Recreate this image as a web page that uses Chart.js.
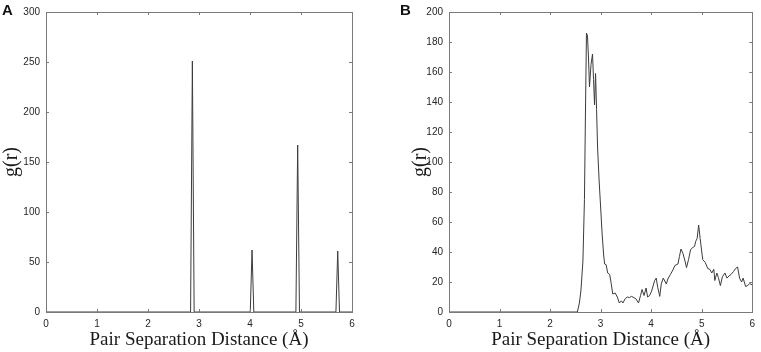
<!DOCTYPE html>
<html lang="en">
<head>
<meta charset="UTF-8">
<title>g(r) panels</title>
<script src="https://cdn.jsdelivr.net/npm/chart.js"></script>
<style>
  body { margin: 0; background: #fff; }
  .panel { position: absolute; top: 0; }
  .letter { position: absolute; top: 1px; font: bold 15px "Liberation Sans", Arial, sans-serif; color: #111; }
</style>
</head>
<body>
<div class="panel" style="left:0"><canvas id="chartA" width="380" height="352"></canvas></div>
<div class="panel" style="left:380px"><canvas id="chartB" width="381" height="352"></canvas></div>
<div class="letter" style="left:2px">A</div>
<div class="letter" style="left:400px">B</div>

<script>
// shared x ticks (Å)
const xTicks = [0, 1, 2, 3, 4, 5, 6];

// panel A: sharp peaks
const aYTicks = [0, 50, 100, 150, 200, 250, 300];
const aX = [0, 2.835, 2.87, 2.905, 4.005, 4.04, 4.075, 4.90, 4.935, 4.97, 5.685, 5.72, 5.755, 6];
const aY = [0, 0, 251, 0, 0, 62, 0, 0, 167, 0, 0, 61, 0, 0];

// panel B: broadened distribution
const bYTicks = [0, 20, 40, 60, 80, 100, 120, 140, 160, 180, 200];
const bX = [0, 2.54, 2.58, 2.61, 2.65, 2.68, 2.70, 2.72, 2.74, 2.76, 2.78, 2.81, 2.84, 2.86, 2.88, 2.90,
  2.92, 2.94, 2.97, 3.00, 3.03, 3.06, 3.08, 3.11, 3.14, 3.18, 3.21, 3.24, 3.29, 3.33, 3.37, 3.41, 3.44,
  3.49, 3.53, 3.57, 3.61, 3.66, 3.70, 3.75, 3.79, 3.82, 3.86, 3.90, 3.93, 3.97, 4.01, 4.07, 4.10, 4.13,
  4.17, 4.20, 4.24, 4.30, 4.33, 4.38, 4.43, 4.47, 4.53, 4.56, 4.59, 4.63, 4.67, 4.70, 4.74, 4.78, 4.82,
  4.86, 4.88, 4.91, 4.94, 4.97, 5.02, 5.07, 5.12, 5.16, 5.20, 5.24, 5.26, 5.30, 5.33, 5.37, 5.41, 5.46,
  5.50, 5.54, 5.58, 5.63, 5.67, 5.71, 5.75, 5.79, 5.82, 5.87, 5.91, 5.95, 6.00];
const bY = [0, 0, 6, 14, 34, 75, 132, 186, 184, 170, 150, 165, 172, 155, 138, 159,
  135, 110, 88, 70, 52, 38, 32, 31.5, 26, 25, 19, 12, 12.6, 10, 6, 7.4, 6,
  9, 10, 9.6, 10.4, 9.6, 8.7, 6, 11, 15, 11, 16, 10, 11, 14, 21, 22.6, 16.5,
  10.4, 18.7, 22.6, 18.7, 22, 25, 28, 31, 32, 37, 42, 39, 34, 29.6, 35, 41.5, 43,
  43.7, 47, 49, 58, 49, 35, 33, 29, 28.5, 26, 28.5, 21, 26, 23, 17.6, 23.5, 26,
  22.6, 24, 25, 27, 29, 30, 22.6, 20, 22.6, 17, 17.6, 19, 18];

// box with inward ticks on all four sides
const boxPlugin = {
  id: 'box',
  afterDraw(chart) {
    const { ctx, chartArea: a, scales } = chart;
    ctx.save();
    ctx.strokeStyle = '#7a7a7a';
    ctx.lineWidth = 1;
    ctx.strokeRect(Math.round(a.left) + 0.5, Math.round(a.top) + 0.5,
      Math.round(a.right - a.left), Math.round(a.bottom - a.top));
    const len = 3;
    ctx.beginPath();
    scales.x.ticks.forEach(t => {
      const px = Math.round(scales.x.getPixelForValue(t.value)) + 0.5;
      ctx.moveTo(px, a.bottom); ctx.lineTo(px, a.bottom - len);
      ctx.moveTo(px, a.top); ctx.lineTo(px, a.top + len);
    });
    scales.y.ticks.forEach(t => {
      const py = Math.round(scales.y.getPixelForValue(t.value)) + 0.5;
      ctx.moveTo(a.left, py); ctx.lineTo(a.left + len, py);
      ctx.moveTo(a.right, py); ctx.lineTo(a.right - len, py);
    });
    ctx.stroke();
    ctx.restore();
  }
};

function makeChart(id, xs, ys, yTicks, padLeft, axisWidth, padRight) {
  const pts = xs.map((x, i) => ({ x: x, y: ys[i] }));
  const tickFont = { family: '"Liberation Sans", Arial, sans-serif', size: 10 };
  const titleFont = { family: '"Liberation Serif", "DejaVu Serif", serif', size: 19 };
  return new Chart(document.getElementById(id), {
    type: 'line',
    data: {
      datasets: [{
        data: pts,
        borderColor: '#3c3c3c',
        borderWidth: 1,
        pointRadius: 0,
        tension: 0,
        fill: false
      }]
    },
    options: {
      responsive: false,
      animation: false,
      devicePixelRatio: 1,
      layout: { padding: { top: 5, right: padRight, left: padLeft, bottom: 0 } },
      plugins: { legend: { display: false }, tooltip: { enabled: false } },
      scales: {
        x: {
          type: 'linear',
          min: 0, max: 6,
          afterBuildTicks: s => { s.ticks = xTicks.map(v => ({ value: v })); },
          afterFit: s => { s.height = 40; },
          grid: { display: false, drawTicks: false },
          border: { display: false },
          ticks: { font: tickFont, color: '#262626', padding: 6, maxRotation: 0 },
          title: { display: true, text: 'Pair Separation Distance (Å)', font: titleFont, color: '#1a1a1a', padding: { top: 0, bottom: 1 } }
        },
        y: {
          type: 'linear',
          min: yTicks[0], max: yTicks[yTicks.length - 1],
          afterBuildTicks: s => { s.ticks = yTicks.map(v => ({ value: v })); },
          afterFit: s => { s.width = axisWidth; },
          grid: { display: false, drawTicks: false },
          border: { display: false },
          ticks: { font: tickFont, color: '#262626', padding: 6 },
          title: { display: true, text: 'g(r)', font: { family: titleFont.family, size: 20 }, color: '#1a1a1a', padding: { top: 0, bottom: 0 } }
        }
      }
    },
    plugins: [boxPlugin]
  });
}

makeChart('chartA', aX, aY, aYTicks, 0, 46, 28);
makeChart('chartB', bX, bY, bYTicks, 29, 40, 6);
</script>
</body>
</html>
